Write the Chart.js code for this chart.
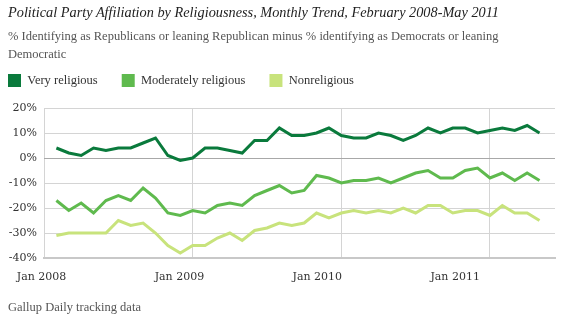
<!DOCTYPE html>
<html>
<head>
<meta charset="utf-8">
<script src="https://cdn.jsdelivr.net/npm/chart.js@4.4.0/dist/chart.umd.min.js"></script>
<style>
  body { margin: 0; background: #fff; }
  #wrap { position: relative; width: 562px; height: 323px; overflow: hidden; }
  .title { position: absolute; left: 8px; top: 4px; font: italic 14.3px/16px "Liberation Serif", serif; color: #222; white-space: nowrap; }
  .subtitle { position: absolute; left: 8px; top: 27px; width: 515px; font: 12.5px/18px "Liberation Serif", serif; color: #555; }
  .source { position: absolute; left: 8px; top: 300px; font: 12.5px/15px "Liberation Serif", serif; color: #555; }
  #chartBox { position: absolute; left: -16px; top: 0; width: 578px; height: 323px; }
</style>
</head>
<body>
<div id="wrap">
  <div id="chartBox"><canvas id="partyChart"></canvas></div>
  <div class="title">Political Party Affiliation by Religiousness, Monthly Trend, February 2008-May 2011</div>
  <div class="subtitle">% Identifying as Republicans or leaning Republican minus % identifying as Democrats or leaning Democratic</div>
  <div class="source">Gallup Daily tracking data</div>
</div>
<script>
// Monthly readings, Feb 2008 through May 2011 (R minus D, in points)
const veryReligious = [4, 2, 1, 4, 3, 4, 4, 6, 8, 1, -1, 0, 4, 4, 3, 2, 7, 7, 12, 9,
    9, 10, 12, 9, 8, 8, 10, 9, 7, 9, 12, 10, 12, 12, 10, 11, 12, 11, 13, 10];
const moderatelyReligious = [-17, -21, -18, -22, -17, -15, -17, -12, -16, -22, -23, -21, -22, -19, -18, -19, -15, -13, -11, -14,
    -13, -7, -8, -10, -9, -9, -8, -10, -8, -6, -5, -8, -8, -5, -4, -8, -6, -9, -6, -9];
const nonreligious = [-31, -30, -30, -30, -30, -25, -27, -26, -30, -35, -38, -35, -35, -32, -30, -33, -29, -28, -26, -27,
    -26, -22, -24, -22, -21, -22, -21, -22, -20, -22, -19, -19, -22, -21, -21, -23, -19, -22, -22, -25];

const seriesNames = ['Very religious', 'Moderately religious', 'Nonreligious'];
const seriesColors = ['#0a7a3c', '#5fba4e', '#c8e37c'];
const tickLabels = ['Jan 2008', 'Jan 2009', 'Jan 2010', 'Jan 2011'];

// month 0 = Jan 2008, so the first reading sits at month 1
function toPoints(values) {
    return values.map((v, i) => ({ x: i + 1, y: v }));
}

const datasets = [veryReligious, moderatelyReligious, nonreligious].map((values, i) => ({
    label: seriesNames[i],
    data: toPoints(values),
    borderColor: seriesColors[i],
    backgroundColor: seriesColors[i],
    borderWidth: 3,
    pointRadius: 0,
    tension: 0
}));

const tickFont = { family: 'DejaVu Serif', size: 11 };

// push the plot down a little below the legend
const legendGap = {
    id: 'legendGap',
    beforeInit(chart) {
        const fit = chart.legend.fit;
        chart.legend.fit = function () {
            fit.bind(chart.legend)();
            this.height += 11;
        };
    }
};

new Chart(document.getElementById('partyChart'), {
    type: 'line',
    data: { datasets: datasets },
    plugins: [legendGap],
    options: {
        responsive: true,
        maintainAspectRatio: false,
        animation: false,
        layout: { padding: { top: 50, right: 7, bottom: 37, left: 0 } },
        plugins: {
            legend: {
                position: 'top',
                align: 'start',
                labels: {
                    boxWidth: 13,
                    boxHeight: 13,
                    padding: 24,
                    color: '#333',
                    font: { family: 'Liberation Serif', size: 12.5 },
                    generateLabels: chart => Chart.defaults.plugins.legend.labels.generateLabels(chart)
                        .map(item => ({ ...item, lineWidth: 0 }))
                }
            },
            tooltip: { enabled: false }
        },
        scales: {
            x: {
                type: 'linear',
                min: 0,
                max: 41.25,
                afterBuildTicks: axis => { axis.ticks = [0, 12, 24, 36].map(v => ({ value: v })); },
                afterFit: axis => { axis.height = 0; },
                ticks: { display: false },
                grid: { color: '#d4d4d4', lineWidth: 1, drawTicks: false },
                border: { color: '#c8c8c8', width: 2 }
            },
            xLabels: {
                type: 'linear',
                position: 'bottom',
                min: 0,
                max: 41.25,
                afterBuildTicks: axis => {
                    axis.ticks = tickLabels.map((t, i) => ({ value: -0.2 + i * 11.13 }));
                },
                afterFit: axis => { axis.height = 28; },
                grid: { display: false },
                border: { display: false },
                ticks: {
                    padding: 5,
                    color: '#333',
                    font: tickFont,
                    maxRotation: 0,
                    autoSkip: false,
                    callback: (value, index) => tickLabels[index]
                }
            },
            y: {
                min: -40,
                max: 20,
                afterFit: axis => { axis.width = 60; },
                ticks: {
                    stepSize: 10,
                    padding: 7,
                    color: '#333',
                    font: tickFont,
                    callback: value => value + '%'
                },
                grid: {
                    drawTicks: false,
                    color: ctx => ctx.tick && ctx.tick.value === 0 ? '#a8a8a8' : '#d4d4d4',
                    lineWidth: 1
                },
                border: { display: false }
            }
        }
    }
});
</script>
</body>
</html>
